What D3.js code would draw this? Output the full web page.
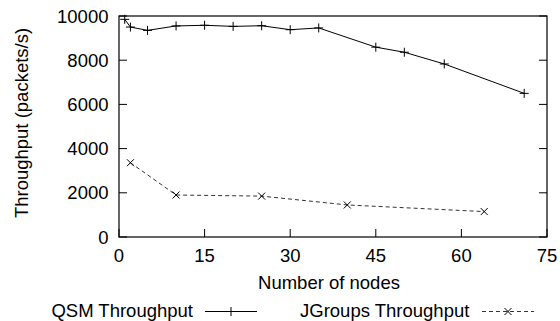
<!DOCTYPE html>
<html>
<head>
<meta charset="utf-8">
<script src="https://cdn.jsdelivr.net/npm/d3@7"></script>
<style>
  body { margin: 0; background: #fff; }
  text { font-family: "Liberation Sans", Arial, sans-serif; font-size: 18.5px; fill: #000; }
</style>
</head>
<body>
<svg id="chart" width="560" height="321"></svg>
<script>
// node counts and throughput (packets/s)
const qsmNodes = [1, 2, 5, 10, 15, 20, 25, 30, 35, 45, 50, 57, 71];
const qsmThroughput = [9850, 9500, 9350, 9550, 9580, 9530, 9560, 9380, 9460, 8590, 8360, 7830, 6500];
const jgNodes = [2, 10, 25, 40, 64];
const jgThroughput = [3360, 1900, 1850, 1450, 1150];
const xTicks = [0, 15, 30, 45, 60, 75];
const yTicks = [0, 2000, 4000, 6000, 8000, 10000];
const seriesNames = ["QSM Throughput", "JGroups Throughput"];

const svg = d3.select("#chart");
const m = { left: 119, right: 547, top: 16, bottom: 237 };

const x = d3.scaleLinear().domain([0, 75]).range([m.left, m.right]);
const y = d3.scaleLinear().domain([0, 10000]).range([m.bottom, m.top]);

/* --- frame and ticks --- */
const g = svg.append("g");
g.append("rect")
  .attr("x", m.left).attr("y", m.top)
  .attr("width", m.right - m.left).attr("height", m.bottom - m.top)
  .attr("fill", "none").attr("stroke", "#000").attr("stroke-width", 1.2);

const tl = 8;
g.selectAll(".xt").data(xTicks).join("line")
  .attr("x1", (d) => x(d)).attr("x2", (d) => x(d))
  .attr("y1", m.bottom).attr("y2", m.bottom - tl)
  .attr("stroke", "#000");
g.selectAll(".xl").data(xTicks).join("text")
  .attr("x", (d) => x(d)).attr("y", 262)
  .attr("text-anchor", "middle").text((d) => d);

g.selectAll(".yt").data(yTicks).join("line")
  .attr("x1", m.left).attr("x2", m.left + tl)
  .attr("y1", (d) => y(d)).attr("y2", (d) => y(d))
  .attr("stroke", "#000");
g.selectAll(".ytr").data(yTicks).join("line")
  .attr("x1", m.right).attr("x2", m.right - tl)
  .attr("y1", (d) => y(d)).attr("y2", (d) => y(d))
  .attr("stroke", "#000");
g.selectAll(".yl").data(yTicks).join("text")
  .attr("x", 108.5).attr("y", (d) => y(d) + 6.5)
  .attr("text-anchor", "end").text((d) => d);

svg.append("text").attr("x", 329).attr("y", 288.5)
  .attr("text-anchor", "middle").text("Number of nodes");
svg.append("text")
  .attr("transform", "translate(27.5,123) rotate(-90)")
  .attr("text-anchor", "middle").text("Throughput (packets/s)");

/* --- series --- */
const line = d3.line().x((d) => x(d[0])).y((d) => y(d[1]));
const qsm = d3.zip(qsmNodes, qsmThroughput);
const jg = d3.zip(jgNodes, jgThroughput);

function plus(sel, s) {
  sel.append("path").attr("d", `M${-s},0H${s}M0,${-s}V${s}`)
    .attr("stroke", "#000").attr("stroke-width", 1);
}
function cross(sel, s) {
  sel.append("path").attr("d", `M${-s},${-s}L${s},${s}M${-s},${s}L${s},${-s}`)
    .attr("stroke", "#000").attr("stroke-width", 1);
}

svg.append("path").datum(qsm).attr("d", line)
  .attr("fill", "none").attr("stroke", "#000").attr("stroke-width", 1);
svg.selectAll(".qp").data(qsm).join("g")
  .attr("transform", (d) => `translate(${x(d[0])},${y(d[1])})`)
  .each(function () { plus(d3.select(this), 4.5); });

svg.append("path").datum(jg).attr("d", line)
  .attr("fill", "none").attr("stroke", "#333").attr("stroke-width", 1)
  .attr("stroke-dasharray", "4,3");
svg.selectAll(".jp").data(jg).join("g")
  .attr("transform", (d) => `translate(${x(d[0])},${y(d[1])})`)
  .each(function () { cross(d3.select(this), 3.5); });

/* --- legend --- */
const ly = 311.5;
svg.append("text").attr("x", 193).attr("y", 316.5).attr("text-anchor", "end").text(seriesNames[0]);
svg.append("line").attr("x1", 205).attr("x2", 257).attr("y1", ly).attr("y2", ly).attr("stroke", "#000");
plus(svg.append("g").attr("transform", `translate(231,${ly})`), 4.5);

svg.append("text").attr("x", 300).attr("y", 316.5).text(seriesNames[1]);
svg.append("line").attr("x1", 482).attr("x2", 534).attr("y1", ly).attr("y2", ly)
  .attr("stroke", "#333").attr("stroke-dasharray", "4,3");
cross(svg.append("g").attr("transform", `translate(508,${ly})`), 3.5);
</script>
</body>
</html>
